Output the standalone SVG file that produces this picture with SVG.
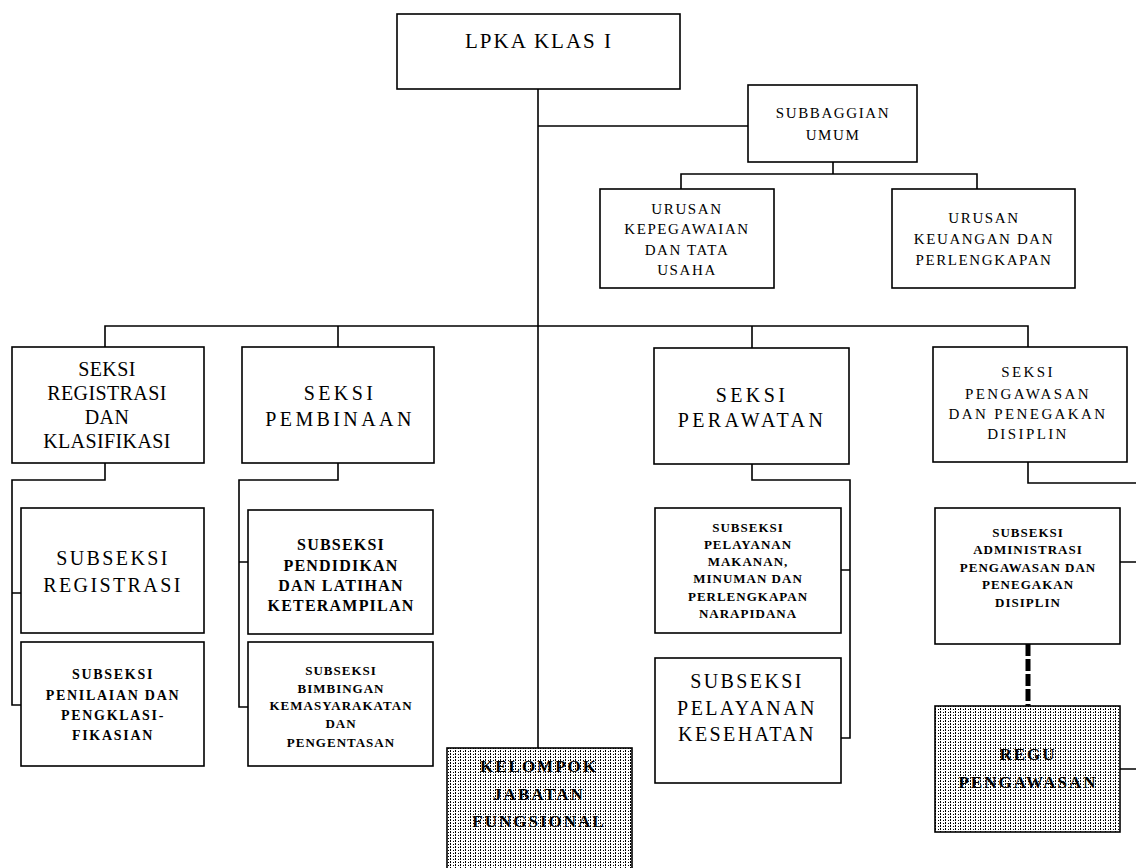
<svg xmlns="http://www.w3.org/2000/svg" width="1136" height="868" viewBox="0 0 1136 868">
<style>
.box{fill:#fff;stroke:#000;stroke-width:1.6}
.pat{fill:url(#dots);stroke:#000;stroke-width:1.6}
.ln{fill:none;stroke:#000;stroke-width:1.6}
.dash{fill:none;stroke:#000;stroke-width:5;stroke-dasharray:12 3}
text{font-family:"Liberation Serif","Times New Roman",serif;fill:#000;text-anchor:middle}
.t1{font-size:21px;letter-spacing:2px}
.t2{font-size:15px;letter-spacing:1.6px}
.t3{font-size:20px;letter-spacing:0.4px}
.t4{font-size:20px;letter-spacing:3.4px}
.t5{font-size:15px;letter-spacing:2.4px}
.t6{font-size:20px;letter-spacing:2.4px}
.t7{font-size:14px;font-weight:bold;letter-spacing:1.7px}
.t8{font-size:16px;font-weight:bold;letter-spacing:1.2px}
.t9{font-size:13px;font-weight:bold;letter-spacing:1px}
.t10{font-size:17px;font-weight:bold;letter-spacing:2px}
</style>
<defs>
<pattern id="dots" width="5" height="6" patternUnits="userSpaceOnUse">
<rect width="5" height="6" fill="#fff"/>
<rect x="0" y="0" width="1" height="2" fill="#000"/>
<rect x="0" y="3" width="1" height="2" fill="#000"/>
<rect x="3" y="1" width="1" height="1" fill="#000"/>
<rect x="3" y="4" width="1" height="1" fill="#000"/>
</pattern>
</defs>
<rect width="1136" height="868" fill="#fff"/>
<g id="connectors">
<path class="ln" d="M538 89V748"/>
<path class="ln" d="M538 126H748"/>
<path class="ln" d="M833 162V174M681 189V174H977V189"/>
<path class="ln" d="M105 347V326H1028V347M338 326V347M752 326V348"/>
<path class="ln" d="M105 463V480H12V705H21M12 593H21"/>
<path class="ln" d="M338 463V480H239V707H248M239 562H248"/>
<path class="ln" d="M752 464V480H850V738H841M850 570H841"/>
<path class="ln" d="M1028 462V483H1136M1120 562H1136M1120 769H1136"/>
<path class="dash" d="M1028 644V706"/>
</g>
<g id="lpka"><rect class="box" x="397" y="14" width="283" height="75"/><text class="t1" x="539" y="48">LPKA KLAS I</text></g>
<g id="subbagian"><rect class="box" x="748" y="85" width="169" height="77"/><text class="t2" x="833" y="118">SUBBAGGIAN</text><text class="t2" x="833" y="140">UMUM</text></g>
<g id="kepegawaian"><rect class="box" x="600" y="189" width="174" height="99"/><text class="t2" x="687" y="214">URUSAN</text><text class="t2" x="687" y="234">KEPEGAWAIAN</text><text class="t2" x="687" y="255">DAN TATA</text><text class="t2" x="687" y="275">USAHA</text></g>
<g id="keuangan"><rect class="box" x="892" y="189" width="183" height="99"/><text class="t2" x="984" y="223">URUSAN</text><text class="t2" x="984" y="244">KEUANGAN DAN</text><text class="t2" x="984" y="265">PERLENGKAPAN</text></g>
<g id="seksi-registrasi"><rect class="box" x="12" y="347" width="192" height="116"/><text class="t3" x="107" y="376">SEKSI</text><text class="t3" x="107" y="400">REGISTRASI</text><text class="t3" x="107" y="424">DAN</text><text class="t3" x="107" y="448">KLASIFIKASI</text></g>
<g id="seksi-pembinaan"><rect class="box" x="242" y="347" width="192" height="116"/><text class="t4" x="340" y="400">SEKSI</text><text class="t4" x="340" y="426">PEMBINAAN</text></g>
<g id="seksi-perawatan"><rect class="box" x="654" y="348" width="195" height="116"/><text class="t4" x="752" y="402">SEKSI</text><text class="t4" x="752" y="427">PERAWATAN</text></g>
<g id="seksi-pengawasan"><rect class="box" x="933" y="347" width="194" height="115"/><text class="t5" x="1028" y="377">SEKSI</text><text class="t5" x="1028" y="399">PENGAWASAN</text><text class="t5" x="1028" y="419">DAN PENEGAKAN</text><text class="t5" x="1028" y="439">DISIPLIN</text></g>
<g id="subseksi-registrasi"><rect class="box" x="21" y="508" width="183" height="125"/><text class="t6" x="113" y="565">SUBSEKSI</text><text class="t6" x="113" y="592">REGISTRASI</text></g>
<g id="subseksi-penilaian"><rect class="box" x="21" y="642" width="183" height="124"/><text class="t7" x="113" y="679">SUBSEKSI</text><text class="t7" x="113" y="700">PENILAIAN DAN</text><text class="t7" x="113" y="720">PENGKLASI-</text><text class="t7" x="113" y="740">FIKASIAN</text></g>
<g id="subseksi-pendidikan"><rect class="box" x="248" y="510" width="185" height="124"/><text class="t8" x="341" y="550">SUBSEKSI</text><text class="t8" x="341" y="571">PENDIDIKAN</text><text class="t8" x="341" y="591">DAN LATIHAN</text><text class="t8" x="341" y="611">KETERAMPILAN</text></g>
<g id="subseksi-bimbingan"><rect class="box" x="248" y="642" width="185" height="124"/><text class="t9" x="341" y="675">SUBSEKSI</text><text class="t9" x="341" y="693">BIMBINGAN</text><text class="t9" x="341" y="710">KEMASYARAKATAN</text><text class="t9" x="341" y="728">DAN</text><text class="t9" x="341" y="747">PENGENTASAN</text></g>
<g id="subseksi-makanan"><rect class="box" x="655" y="508" width="186" height="125"/><text class="t9" x="748" y="532">SUBSEKSI</text><text class="t9" x="748" y="549">PELAYANAN</text><text class="t9" x="748" y="566">MAKANAN,</text><text class="t9" x="748" y="583">MINUMAN DAN</text><text class="t9" x="748" y="601">PERLENGKAPAN</text><text class="t9" x="748" y="618">NARAPIDANA</text></g>
<g id="subseksi-kesehatan"><rect class="box" x="655" y="658" width="186" height="125"/><text class="t6" x="747" y="688">SUBSEKSI</text><text class="t6" x="747" y="715">PELAYANAN</text><text class="t6" x="747" y="741">KESEHATAN</text></g>
<g id="subseksi-administrasi"><rect class="box" x="935" y="508" width="185" height="136"/><text class="t9" x="1028" y="537">SUBSEKSI</text><text class="t9" x="1028" y="554">ADMINISTRASI</text><text class="t9" x="1028" y="572">PENGAWASAN DAN</text><text class="t9" x="1028" y="589">PENEGAKAN</text><text class="t9" x="1028" y="607">DISIPLIN</text></g>
<g id="kelompok-jabatan"><rect class="pat" x="447" y="748" width="185" height="130"/><text class="t10" x="539" y="772">KELOMPOK</text><text class="t10" x="539" y="800">JABATAN</text><text class="t10" x="539" y="827">FUNGSIONAL</text></g>
<g id="regu-pengawasan"><rect class="pat" x="935" y="706" width="185" height="126"/><text class="t10" x="1028" y="760">REGU</text><text class="t10" x="1028" y="788">PENGAWASAN</text></g>
</svg>
